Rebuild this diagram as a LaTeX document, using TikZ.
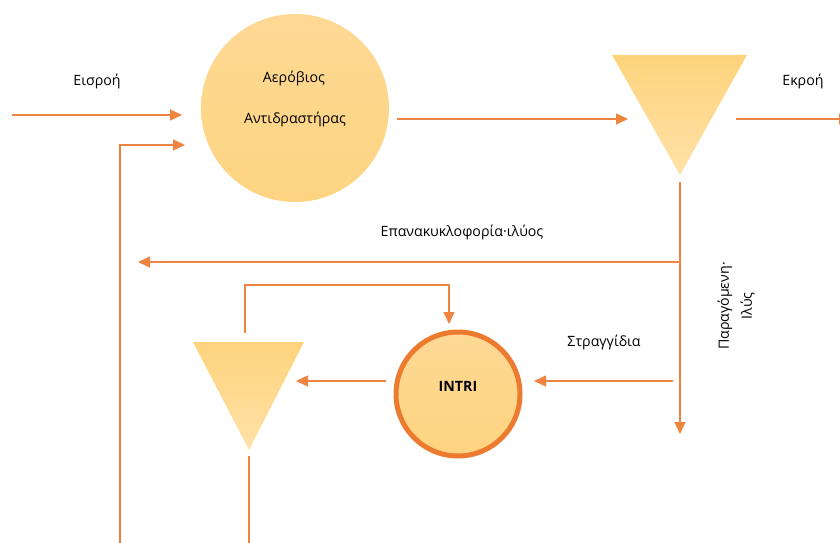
\documentclass[tikz,border=0pt]{standalone}
\usepackage{fontspec}
\setmainfont{Open Sans}
\usetikzlibrary{arrows.meta}
\definecolor{flow}{HTML}{EF8440}
\definecolor{ringc}{HTML}{EC7B30}
\definecolor{filltop}{HTML}{FED37C}
\definecolor{fillbot}{HTML}{FFE2A8}
\definecolor{circfill}{HTML}{FED995}
\tikzset{
  x=1pt, y=-1pt,
  flowline/.style={draw=flow, line width=1.4pt},
  flowarrow/.style={flowline, -{Triangle[length=12pt,width=11pt]}},
  lbl/.style={font=\fontsize{14.2}{20}\selectfont, text=black, inner sep=0pt},
}
\begin{document}
\begin{tikzpicture}
\useasboundingbox (0,0) rectangle (840,543);
\clip (0,0) rectangle (840,543);

% aerobic reactor
\shade[top color=circfill, bottom color=filltop!80!circfill] (295,108) circle (94);
\node[circle, minimum size=188pt, inner sep=0pt] (reactor) at (295,108) {};
\node[lbl] (r1) at (294,78) {Αερόβιος};
\node[lbl] (r2) at (295,119) {Αντιδραστήρας};

% secondary clarifier
\shade[top color=filltop, bottom color=fillbot] (612,55) -- (747,55) -- (680,175) -- cycle;
\coordinate (clarin) at (628,119);
\coordinate (clarout) at (736,119);
\coordinate (clarbot) at (680,182);

% INTRI unit
\shade[top color=circfill, bottom color=filltop!85!circfill] (458,394) circle (62);
\draw[draw=ringc, line width=5pt] (458,394) circle (62);
\node[circle, minimum size=130pt, inner sep=0pt] (intri) at (458,394) {};
\node[font=\fontsize{14.2}{16}\selectfont\bfseries, inner sep=0pt] (intrit) at (458,386) {INTRI};

% small thickener
\shade[top color=filltop, bottom color=fillbot] (193,342) -- (304,342) -- (249,450) -- cycle;

% coordinates for free ends
\coordinate (inA) at (12,115);
\coordinate (inAend) at (182,115);
\coordinate (retB) at (120,543);
\coordinate (retBc) at (120,145);
\coordinate (retBend) at (185,145);
\coordinate (rOut) at (397,119);
\coordinate (effEnd) at (851,119);
\coordinate (split) at (680,262);
\coordinate (recEnd) at (138,262);
\coordinate (sludgeEnd) at (680,434);
\coordinate (drainStart) at (673,381);
\coordinate (drainEnd) at (534,381);
\coordinate (intriOut) at (386,381);
\coordinate (thkIn) at (296,381);
\coordinate (loopA) at (245,333);
\coordinate (loopB) at (245,285);
\coordinate (loopC) at (449,285);
\coordinate (loopD) at (449,324);
\coordinate (thkBot) at (249,456);
\coordinate (thkEnd) at (249,543);

% connectors
\draw[flowarrow] (inA) -- (inAend);
\draw[flowarrow] (retB) -- (retBc) -- (retBend);
\draw[flowarrow] (rOut) -- (clarin);
\draw[flowarrow] (clarout) -- (effEnd);
\draw[flowarrow] (clarbot) -- (sludgeEnd);
\draw[flowarrow] (split) -- (recEnd);
\draw[flowarrow] (drainStart) -- (drainEnd);
\draw[flowarrow] (intriOut) -- (thkIn);
\draw[flowarrow] (loopA) -- (loopB) -- (loopC) -- (loopD);
\draw[flowline] (thkBot) -- (thkEnd);

% labels
\node[lbl] (lin) at (97,81) {Εισροή};
\node[lbl] (lout) at (803,81) {Εκροή};
\node[lbl] (lrec) at (462,232) {Επανακυκλοφορία·ιλύος};
\node[lbl] (ldrain) at (604,342) {Στραγγίδια};
\node[lbl, font=\fontsize{14.2}{23}\selectfont, rotate=90, align=center] (lsl) at (736,306) {Παραγόμενη·\\Ιλύς};
\end{tikzpicture}
\end{document}
